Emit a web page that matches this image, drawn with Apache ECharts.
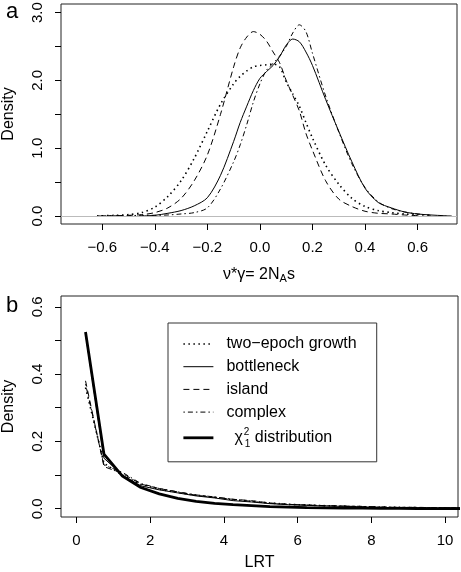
<!DOCTYPE html>
<html>
<head>
<meta charset="utf-8">
<script src="https://cdn.jsdelivr.net/npm/echarts@6/dist/echarts.min.js"></script>
<style>html,body{margin:0;padding:0;background:#fff}#c{width:461px;height:572px}</style>
</head>
<body>
<div id="c"></div>
<script>
// ---------- Panel a: density of nu*gamma ----------
const xA = [-0.62,-0.55,-0.5,-0.45,-0.4,-0.35,-0.3,-0.25,-0.2,-0.15,-0.1,-0.075,-0.05,-0.025,0,0.025,0.05,0.075,0.1,0.125,0.15,0.175,0.2,0.25,0.3,0.35,0.4,0.45,0.5,0.55,0.6,0.65,0.7,0.73];
const aTwoEpoch = [0,0.01,0.02,0.05,0.13,0.29,0.52,0.85,1.25,1.65,1.95,2.06,2.14,2.2,2.22,2.23,2.24,2.2,1.98,1.8,1.62,1.38,1.15,0.75,0.47,0.26,0.14,0.08,0.05,0.03,0.02,0.01,null,null];
const aBottleneck = [null,null,null,0,0.01,0.04,0.08,0.15,0.27,0.6,1.1,1.38,1.62,1.85,2.03,2.13,2.22,2.35,2.52,2.61,2.57,2.42,2.22,1.72,1.25,0.8,0.41,0.2,0.12,0.06,0.03,0.015,0.005,0];
const aIsland = [0,0.005,0.01,0.02,0.05,0.12,0.26,0.52,0.9,1.5,2.2,2.48,2.64,2.72,2.68,2.58,2.42,2.26,2.0,1.78,1.55,1.22,0.97,0.52,0.25,0.14,0.07,0.04,0.03,0.015,0.005,null,null,null];
const aComplex = [0,0.005,0.005,0.01,0.01,0.015,0.03,0.05,0.12,0.4,0.8,1.05,1.35,1.68,1.95,2.15,2.25,2.36,2.5,2.7,2.82,2.72,2.4,1.77,1.24,0.77,0.42,0.21,0.11,0.06,0.03,0.01,null,null];
const aXTicks = [-0.6,-0.4,-0.2,0,0.2,0.4,0.6];
const aYTicks = [0,0.5,1,1.5,2,2.5,3];
const aYLabels = [0,1,2,3];

// ---------- Panel b: LRT distribution ----------
const xB = [0.25,0.75,1.25,1.75,2.25,2.75,3.25,3.75,4.25,4.75,5.25,5.75,6.25,6.75,7.25,7.75,8.25,8.75,9.25,9.75,10.25,10.75];
const bTwoEpoch = [0.36,0.135,0.10,0.072,0.058,0.048,0.04,0.034,0.027,0.022,0.017,0.013,0.011,0.009,0.007,0.006,0.005,0.004,0.003,0.003,0.002,0.002];
const bBottleneck = [0.52,0.15,0.10,0.068,0.056,0.047,0.038,0.032,0.024,0.02,0.015,0.012,0.01,0.008,0.007,0.005,0.004,0.003,0.003,0.002,0.002,0.002];
const bIsland = [0.38,0.125,0.105,0.073,0.06,0.05,0.04,0.034,0.028,0.024,0.017,0.013,0.011,0.009,0.008,0.006,0.005,0.004,0.004,0.003,0.003,0.003];
const bComplex = [0.37,0.13,0.108,0.075,0.06,0.05,0.041,0.035,0.028,0.022,0.016,0.013,0.011,0.009,0.008,0.007,0.005,0.004,0.004,0.003,0.003,0.003];
const bChi2 = [0.525,0.162,0.097,0.063,0.044,0.031,0.022,0.016,0.012,0.009,0.006,0.005,0.0035,0.0026,0.002,0.0015,0.0011,0.0008,0.0006,0.0005,0.0004,0.0003];
const bXTicks = [0,2,4,6,8,10];
const bYTicks = [0,0.1,0.2,0.3,0.4,0.5,0.6];
const bYLabels = [0,0.2,0.4,0.6];

const legendNames = ['two\u2212epoch growth','bottleneck','island','complex','chi2'];

function pairs(xs, ys){ const out=[]; xs.forEach((x,i)=>{ if(ys[i]!==null && ys[i]!==undefined) out.push([x,ys[i]]); }); return out; }
const FONT = '"Liberation Sans", Arial, Helvetica, sans-serif';
const fmt = v => { const s = Math.abs(v).toFixed(1); return v < -1e-9 ? '\u2212' + s : s; };
const fmtInt = v => { const s = String(Math.abs(Math.round(v))); return v < -1e-9 ? '\u2212' + s : s; };

const DOT = [1.5,3.5], DASH = [6,4], DOTDASH = [1.5,3,5,3];

function xAxisCfg(grid, min, max, ticks, formatter, name, nameGap){
  return {
    type:'value', gridIndex:grid, min:min, max:max,
    axisLine:{show:false, onZero:false},
    axisTick:{show:true, customValues:ticks, length:6, lineStyle:{color:'#000', width:1}},
    axisLabel:{customValues:ticks, formatter:formatter, color:'#000', fontSize:15, fontFamily:FONT, margin:16},
    splitLine:{show:false},
    name:name, nameLocation:'middle', nameGap:nameGap,
    nameTextStyle:{color:'#000', fontSize:16, fontFamily:FONT,
      rich:{n:{fontSize:16, fontFamily:FONT, color:'#000'}, sub:{fontSize:11, fontFamily:FONT, color:'#000', padding:[7,0,0,0]}}}
  };
}
function yAxisCfg(grid, min, max, ticks, labels){
  return {
    type:'value', gridIndex:grid, min:min, max:max,
    axisLine:{show:false, onZero:false},
    axisTick:{show:true, customValues:ticks, length:6, lineStyle:{color:'#000', width:1}},
    axisLabel:{customValues:labels, formatter:fmt, color:'#000', fontSize:15, fontFamily:FONT, margin:16, rotate:90},
    splitLine:{show:false},
    name:'Density', nameLocation:'middle', nameGap:44,
    nameTextStyle:{color:'#000', fontSize:16, fontFamily:FONT}
  };
}
function line(name, grid, xs, ys, type, width, smooth){
  return {
    type:'line', name:name, xAxisIndex:grid, yAxisIndex:grid, data:pairs(xs,ys),
    symbol:'none', showSymbol:false, smooth:smooth, clip:true, animation:false,
    itemStyle:{color:'#000'},
    lineStyle:{color:'#000', width:width, type:type}
  };
}

const chart = echarts.init(document.getElementById('c'), null, {renderer:'canvas'});
const aSeries = [
  line('a two-epoch', 0, xA, aTwoEpoch, DOT, 1.6, 0.3),
  line('a bottleneck', 0, xA, aBottleneck, 'solid', 1, 0.3),
  line('a island', 0, xA, aIsland, DASH, 1, 0.3),
  line('a complex', 0, xA, aComplex, DOTDASH, 1, 0.3)
];
aSeries[1].markLine = {silent:true, symbol:'none', label:{show:false}, lineStyle:{color:'#bbb', width:1, type:'solid'}, data:[{yAxis:0}], animation:false};

chart.setOption({
  animation:false,
  backgroundColor:'#fff',
  textStyle:{fontFamily:FONT},
  title:[
    {text:'a', left:1, top:-4, textStyle:{fontSize:22, fontWeight:'normal', color:'#000', fontFamily:FONT}},
    {text:'b', left:1, top:290, textStyle:{fontSize:22, fontWeight:'normal', color:'#000', fontFamily:FONT}}
  ],
  grid:[
    {left:61, top:4, width:396, height:220, containLabel:false, outerBoundsMode:'none', show:true, borderColor:'#222', borderWidth:1, backgroundColor:'transparent'},
    {left:61, top:296, width:397, height:221, containLabel:false, outerBoundsMode:'none', show:true, borderColor:'#222', borderWidth:1, backgroundColor:'transparent'}
  ],
  xAxis:[
    xAxisCfg(0, -0.757, 0.75, aXTicks, fmt, '{n|\u03bd*\u03b3= 2N}{sub|A}{n|s}', 42),
    xAxisCfg(1, -0.415, 10.35, bXTicks, fmtInt, 'LRT', 38)
  ],
  yAxis:[
    yAxisCfg(0, -0.118, 3.127, aYTicks, aYLabels),
    yAxisCfg(1, -0.0246, 0.632, bYTicks, bYLabels)
  ],
  legend:{
    data:legendNames, orient:'vertical', left:168, top:323, width:196,
    backgroundColor:'#fff', borderColor:'#333', borderWidth:1, borderRadius:0,
    padding:[13,20,13,14], itemWidth:30, itemHeight:14, itemGap:6.7,
    selectedMode:false,
    itemStyle:{color:'rgba(0,0,0,0)', borderWidth:0, opacity:0},
    textStyle:{color:'#000', fontSize:16, fontFamily:FONT, padding:[0,0,0,8],
      rich:{
        g:{fontSize:16, fontFamily:FONT, color:'#000', padding:[0,1,0,8], lineHeight:22, verticalAlign:'middle'},
        sup:{fontSize:10, fontFamily:FONT, color:'#000', lineHeight:12, verticalAlign:'top', width:1},
        sb:{fontSize:10, fontFamily:FONT, color:'#000', lineHeight:12, verticalAlign:'bottom'},
        t:{fontSize:16, fontFamily:FONT, color:'#000', lineHeight:22, verticalAlign:'middle'}
      }},
    formatter: n => n === 'chi2' ? '{g|\u03c7}{sup|2}{sb|1}{t| distribution}' : n,
    lineStyle:{type:'inherit', width:'inherit', color:'#000', opacity:1}
  },
  series:[
    ...aSeries,
    line(legendNames[0], 1, xB, bTwoEpoch, DOT, 1.6, false),
    line(legendNames[1], 1, xB, bBottleneck, 'solid', 1, false),
    line(legendNames[2], 1, xB, bIsland, DASH, 1, false),
    line(legendNames[3], 1, xB, bComplex, DOTDASH, 1, false),
    line(legendNames[4], 1, xB, bChi2, 'solid', 2.8, false)
  ]
});
</script>
</body>
</html>
